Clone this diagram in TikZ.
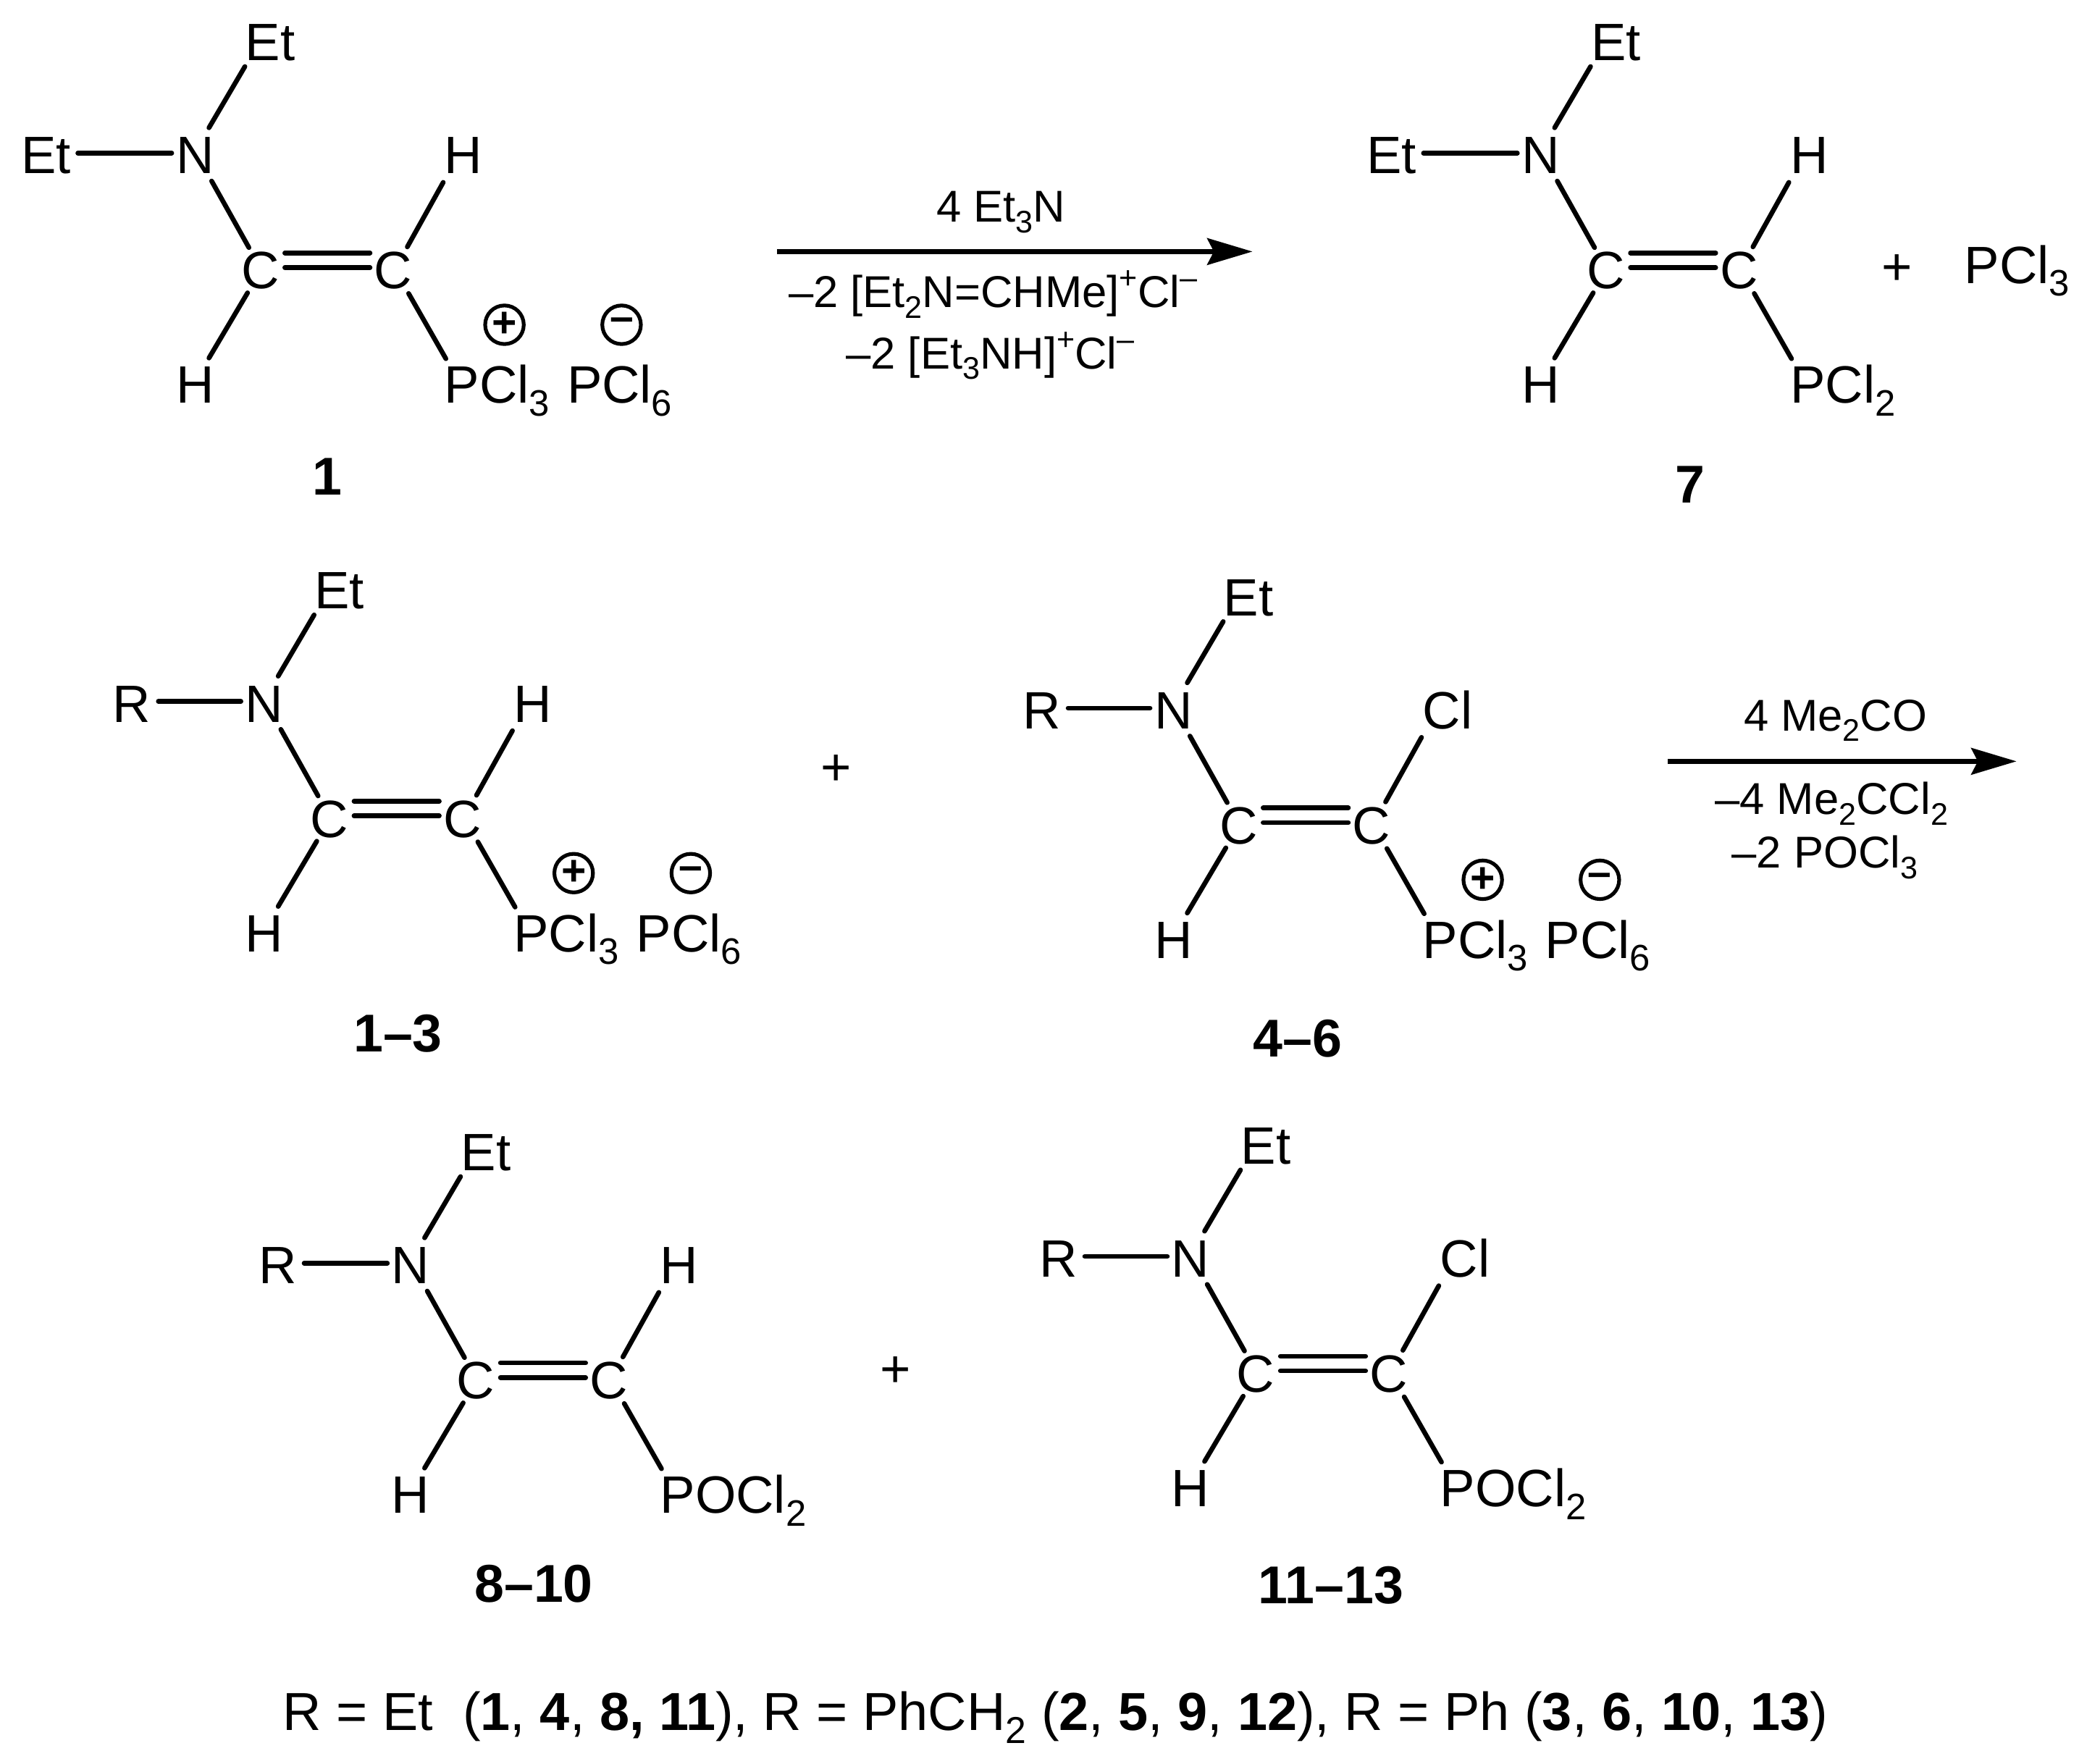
\documentclass[tikz,border=0pt]{standalone}
\usepackage{fontspec}
\setmainfont{Liberation Sans}
\usetikzlibrary{arrows.meta}
\newcommand{\sbs}[1]{\raisebox{-.24em}{\scalebox{.7}{#1}}}
\newcommand{\sps}[1]{\raisebox{.42em}{\scalebox{.7}{#1}}}
\tikzset{
  atom/.style={inner sep=0pt,outer sep=0pt,anchor=base,font=\fontsize{39.5}{39.5}\selectfont},
  atomw/.style={atom,anchor=base west},
  cmpd/.style={atom,font=\fontsize{40}{40}\selectfont\bfseries},
  reag/.style={inner sep=0pt,outer sep=0pt,anchor=base,font=\fontsize{33.5}{33.5}\selectfont},
  bond/.style={line width=3.6pt,line cap=round},
  react/.style={line width=3.6pt,-{Stealth[length=34pt,width=20pt,inset=5pt]}},
  charge/.style={circle,draw,line width=2.8pt,minimum size=29pt,inner sep=0pt,font=\fontsize{32}{32}\selectfont\bfseries}
}
% #1 prefix, #2 dx, #3 dy, #4 left group x, #5 left group, #6 bond start offset, #7 X, #8 P group
\newcommand{\enamine}[8]{%
\begin{scope}[shift={(#2,#3)}]
  \node[atom] (#1n) at (146.5,130.5) {N};
  \node[atom] (#1ca) at (195.5,217) {C};
  \node[atom] (#1cb) at (295.5,217) {C};
  \node[atom] (#1et) at (203,45.5) {Et};
  \node[atom] (#1l) at (#4,130.5) {#5};
  \node[atomw] (#1x) at (334,130.5) {#7};
  \node[atom] (#1h) at (146.5,303) {H};
  \node[atomw] (#1p) at (334,303) {#8};
  \draw[bond] ([shift={(10.5,-34.5)}]#1n.base) -- ([shift={(-19,4.5)}]#1et.base);
  \draw[bond] ([shift={(#6,-15.5)}]#1l.base) -- ([shift={(-17.5,-15.5)}]#1n.base);
  \draw[bond] ([shift={(12.5,5.5)}]#1n.base) -- ([shift={(-8.5,-31)}]#1ca.base);
  \draw[bond] ([shift={(18.5,-27)}]#1ca.base) -- ([shift={(-17.5,-27)}]#1cb.base);
  \draw[bond] ([shift={(18.5,-16)}]#1ca.base) -- ([shift={(-17.5,-16)}]#1cb.base);
  \draw[bond] ([shift={(10.5,-31.5)}]#1cb.base) -- ([shift={(-1,6.5)}]#1x.base west);
  \draw[bond] ([shift={(-9.5,3)}]#1ca.base) -- ([shift={(10.5,-34)}]#1h.base);
  \draw[bond] ([shift={(11.5,3.5)}]#1cb.base) -- ([shift={(1,-33.5)}]#1p.base west);
\end{scope}}
\newcommand{\ions}[3]{%
\begin{scope}[shift={(#2,#3)}]
  \node[atomw] (#1an) at (426,303) {PCl\sbs{6}};
  \node[charge] (#1pos) at (379,244) {+};
  \node[charge] (#1neg) at (467,244) {–};
\end{scope}}
\begin{document}
\begin{tikzpicture}[x=1pt,y=-1pt]
\fill[white] (0,0) rectangle (1568,1325);
\useasboundingbox (0,0) rectangle (1568,1325);

\enamine{a}{0}{0}{34.5}{Et}{24}{H}{PCl\sbs{3}}
\ions{a}{0}{0}
\node[cmpd] (la) at (246,372) {1};

\enamine{g}{1011}{0}{34.5}{Et}{24}{H}{PCl\sbs{2}}
\node[cmpd] (lg) at (1270,378) {7};
\node[atom] (plusa) at (1425,214) {+};
\node[atomw] (pcl) at (1476,213) {PCl\sbs{3}};

\coordinate (a1s) at (584,189);
\coordinate (a1e) at (941,189);
\draw[react] (a1s) -- (a1e);
\node[reag] (r1) at (752,167) {4 Et\sbs{3}N};
\node[reag] (r2) at (746,231) {–2 [Et\sbs{2}N=CHMe]\sps{+}Cl\sps{–}};
\node[reag] (r3) at (744,277) {–2 [Et\sbs{3}NH]\sps{+}Cl\sps{–}};

\enamine{b}{52}{412}{47}{R}{20}{H}{PCl\sbs{3}}
\ions{b}{52}{412}
\node[cmpd] (lb) at (299,790) {1–3};
\node[atom] (plusb) at (628,590) {+};

\enamine{c}{735}{417}{47.5}{R}{20}{Cl}{PCl\sbs{3}}
\ions{c}{735}{417}
\node[cmpd] (lc) at (975,794) {4–6};

\coordinate (a2s) at (1253,572);
\coordinate (a2e) at (1515,572);
\draw[react] (a2s) -- (a2e);
\node[reag] (r4) at (1379,549) {4 Me\sbs{2}CO};
\node[reag] (r5) at (1376,612) {–4 Me\sbs{2}CCl\sbs{2}};
\node[reag] (r6) at (1371,652) {–2 POCl\sbs{3}};

\enamine{d}{162}{834}{46.5}{R}{20}{H}{POCl\sbs{2}}
\node[cmpd] (ld) at (401,1204) {8–10};
\node[atom] (plusc) at (673,1042) {+};

\enamine{e}{748}{829}{47}{R}{20}{Cl}{POCl\sbs{2}}
\node[cmpd] (le) at (1000,1205) {11–13};

\node[atom,font=\fontsize{40.2}{40.2}\selectfont] (legend) at (793,1300) {R = Et\ \ (\textbf{1}, \textbf{4}, \textbf{8,} \textbf{11}), R = PhCH\sbs{2} (\textbf{2}, \textbf{5}, \textbf{9}, \textbf{12}), R = Ph (\textbf{3}, \textbf{6}, \textbf{10}, \textbf{13})};
\end{tikzpicture}
\end{document}
